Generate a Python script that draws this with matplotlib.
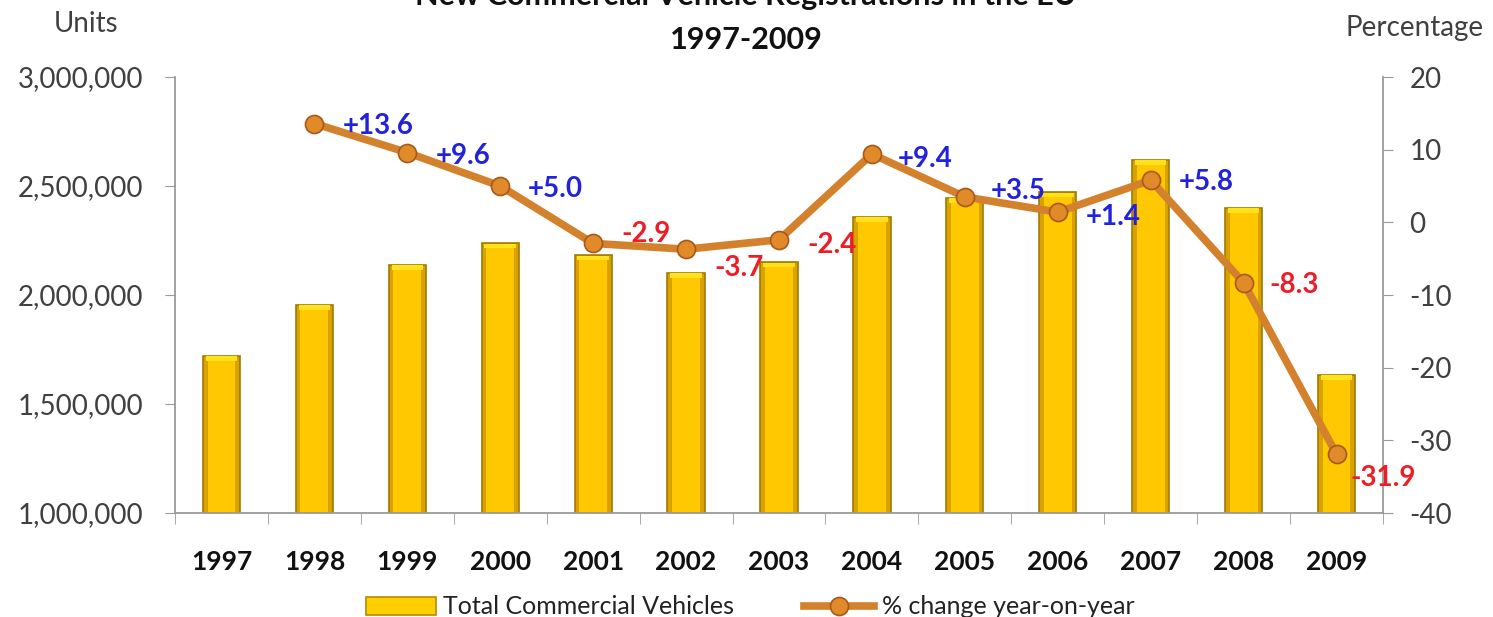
import numpy as np
import matplotlib
matplotlib.use("Agg")
import matplotlib.pyplot as plt
from matplotlib.patches import Patch
from matplotlib.ticker import FuncFormatter, FixedLocator

plt.rcParams['font.family'] = ['Lato', 'DejaVu Sans']
plt.rcParams['axes.unicode_minus'] = False

# data
years = ['1997', '1998', '1999', '2000', '2001', '2002', '2003',
         '2004', '2005', '2006', '2007', '2008', '2009']
units = [1720000, 1954000, 2138000, 2238000, 2183000, 2101000, 2151000,
         2358000, 2445000, 2472000, 2619000, 2399000, 1633000]
pct_years = years[1:]
pct_change = [13.6, 9.6, 5.0, -2.9, -3.7, -2.4, 9.4, 3.5, 1.4, 5.8, -8.3, -31.9]
# label offsets in pixels (dx, dy) relative to each point
label_off = [(28, -2), (28, -3), (28, -3), (28, 9), (28, -19), (28, -5),
             (26, -5), (26, 6), (28, -5), (28, -2), (26, -2), (14, -24)]

GRAY = '#9a9a9a'
TXT = '#404040'

fig = plt.figure(figsize=(14.93, 6.17), dpi=100)
ax = fig.add_axes([175/1493, 1-513/617, (1383-175)/1493, (513-77)/617])
x = np.arange(len(years))
u = np.array(units)

# bars: darker shell, lighter core, bright cap for the bevelled look
ax.bar(x, u, width=0.4, color='#D9A200', edgecolor='#A07A00', linewidth=1.2,
       zorder=2)
ax.bar(x, u - 1000000 - 12000, bottom=1000000, width=0.3, color='#FFC800',
       linewidth=0, zorder=2.1)
ax.bar(x, 22000, bottom=u - 24000, width=0.34, color='#FFE21A', linewidth=0,
       zorder=2.2)
ax.set_ylim(1000000, 3000000)
ax.set_xlim(-0.5, len(years) - 0.5)
ax.set_yticks([1000000, 1500000, 2000000, 2500000, 3000000])
ax.yaxis.set_major_formatter(FuncFormatter(lambda v, p: f'{int(v):,}'))
ax.set_xticks(x)
ax.set_xticklabels(years, fontsize=19, fontweight='bold', color='#111111')
ax.xaxis.set_minor_locator(FixedLocator(np.arange(-0.5, len(years), 1.0)))
ax.tick_params(axis='x', which='major', length=0, pad=27)
ax.tick_params(axis='x', which='minor', length=8, color=GRAY, direction='out')
ax.tick_params(axis='y', length=7, color=GRAY, labelsize=20, labelcolor=TXT, pad=16)
for s in ['top', 'right']:
    ax.spines[s].set_visible(False)
ax.spines['left'].set_color(GRAY)
ax.spines['bottom'].set_color(GRAY)
ax.spines['left'].set_linewidth(1.3)
ax.spines['bottom'].set_linewidth(1.3)

ax2 = ax.twinx()
xp = np.arange(1, len(years))
line, = ax2.plot(xp, pct_change, color='#D4812E', linewidth=5.5, marker='o',
                 markersize=13, markerfacecolor='#E08A2A', markeredgecolor='#A8581A',
                 markeredgewidth=1.2, zorder=3)
ax2.set_ylim(-40, 20)
ax2.set_yticks([-40, -30, -20, -10, 0, 10, 20])
ax2.tick_params(axis='y', length=7, color=GRAY, labelsize=20, labelcolor=TXT, pad=12)
for s in ['top', 'left', 'bottom']:
    ax2.spines[s].set_visible(False)
ax2.spines['right'].set_color(GRAY)
ax2.spines['right'].set_linewidth(1.3)

for xi, v, (dx, dy) in zip(xp, pct_change, label_off):
    col = '#2222DD' if v > 0 else '#EE1C25'
    ax2.annotate(f'{v:+.1f}', (xi, v), xytext=(dx, dy), textcoords='offset pixels',
                 ha='left', va='center', fontsize=20, fontweight='bold', color=col,
                 zorder=4)

fig.text(746/1493, 1 + 4/617, 'New Commercial Vehicle Registrations in the EU',
         ha='center', va='center', fontsize=22, fontweight='bold', color='#111111')
fig.text(746/1493, 1 - 40/617, '1997-2009', ha='center', va='center',
         fontsize=22, fontweight='bold', color='#111111')
fig.text(86/1493, 1 - 24/617, 'Units', ha='center', va='center', fontsize=20, color=TXT)
fig.text(1415/1493, 1 - 28/617, 'Percentage', ha='center', va='center', fontsize=20,
         color=TXT)

bar_handle = Patch(facecolor='#FFD000', edgecolor='#B88A00', linewidth=1.2)
fig.legend([bar_handle, line], ['Total Commercial Vehicles', '% change year-on-year'],
           loc='center', bbox_to_anchor=(750/1493, 10/617),
           ncol=2, frameon=False, fontsize=18, handlelength=2.8, handletextpad=0.3,
           columnspacing=2.8, labelcolor='#222222')

fig.savefig('out.png', dpi=100)
